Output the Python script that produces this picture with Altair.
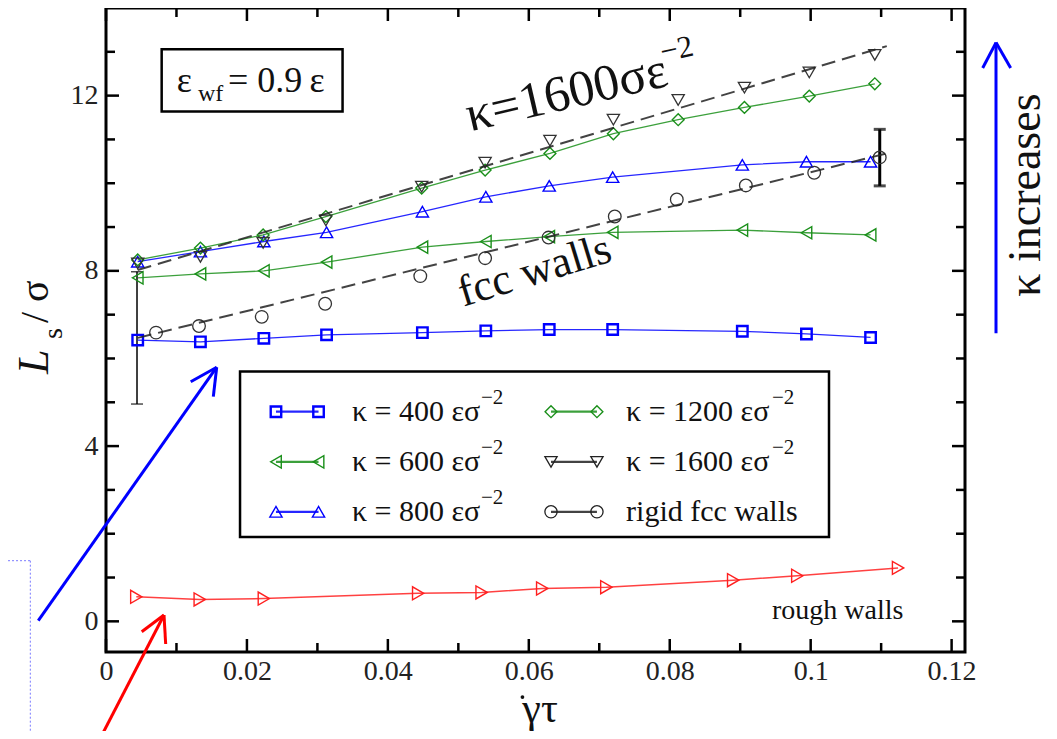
import altair as alt
import pandas as pd

# ---------------- data ----------------
X_A = [0.0045, 0.0134, 0.0224, 0.0313, 0.0449, 0.0539, 0.0629, 0.0719, 0.0903, 0.0994, 0.1085]
K400 = [6.42, 6.38, 6.46, 6.54, 6.59, 6.63, 6.66, 6.66, 6.62, 6.56, 6.48]
K600 = [7.84, 7.93, 8.00, 8.20, 8.54, 8.67, 8.78, 8.88, 8.93, 8.87, 8.82]
K800 = [8.21, 8.44, 8.67, 8.88, 9.35, 9.69, 9.94, 10.14, 10.42, 10.49, 10.49]

X_B = [0.0045, 0.0134, 0.0223, 0.0312, 0.0448, 0.0538, 0.0630, 0.0720, 0.0812, 0.0906, 0.0998, 0.1091]
K1200 = [8.25, 8.52, 8.82, 9.24, 9.89, 10.30, 10.68, 11.13, 11.45, 11.73, 11.99, 12.27]
K1600 = [8.17, 8.32, 8.64, 9.15, 9.92, 10.47, 10.97, 11.45, 11.90, 12.18, 12.53, 12.93]

X_FCC = [0.0071, 0.0132, 0.0221, 0.0311, 0.0446, 0.0538, 0.0628, 0.0722, 0.0810, 0.0908, 0.1005, 0.1098]
FCC = [6.59, 6.74, 6.95, 7.25, 7.88, 8.29, 8.76, 9.24, 9.63, 9.95, 10.24, 10.59]

X_ROUGH = [0.0043, 0.0133, 0.0224, 0.0443, 0.0533, 0.0619, 0.0710, 0.0890, 0.0981, 0.1124]
ROUGH = [0.56, 0.50, 0.52, 0.64, 0.66, 0.75, 0.78, 0.94, 1.04, 1.22]

FIT_X = [0.0045, 0.1108]
FIT_1600 = [8.02, 13.13]
FIT_FCC = [6.47, 10.68]

ERR_X = [0.0044, 0.1098]
ERR_LO = [4.96, 9.94]
ERR_HI = [7.98, 11.23]

X_TICK_LABELS = [0, 0.02, 0.04, 0.06, 0.08, 0.1, 0.12]
X_MINOR = [0.01, 0.03, 0.05, 0.07, 0.09, 0.11]
Y_TICK_LABELS = [0, 4, 8, 12]
Y_MINOR = [1, 2, 3, 5, 6, 7, 9, 10, 11, 13]

LEGEND_TEXT = ["κ = 400 εσ", "κ = 600 εσ", "κ = 800 εσ",
               "κ = 1200 εσ", "κ = 1600 εσ", "rigid fcc walls"]

# ---------------- styling / layout ----------------
W, H = 859, 644
FONT = "Liberation Serif, Times New Roman, Times, serif"
BLUE, GREEN, BLACK, RED = "#0000ff", "#1a8f1a", "#222222", "#ff2020"

XS = alt.Scale(domain=[0, 0.1219], nice=False, zero=False)
YS = alt.Scale(domain=[-0.7, 14], nice=False, zero=False)
XAX = alt.Axis(values=X_TICK_LABELS, format="~g", ticks=False, tickSize=0, domain=False,
               grid=False, labelFont=FONT, labelFontSize=28, labelColor="#222",
               labelPadding=5, labelFlush=False, title=None)
YAX = alt.Axis(values=Y_TICK_LABELS, format="d", ticks=False, tickSize=0, domain=False,
               grid=False, labelFont=FONT, labelFontSize=28, labelColor="#222",
               labelPadding=8, title=None)


def X(f="x"):
    return alt.X(f, type="quantitative", scale=XS, axis=XAX)


def Y(f="y"):
    return alt.Y(f, type="quantitative", scale=YS, axis=YAX)


def series(xs, ys, color, shape, size, sw, line=True, dash=None, lw=1.3):
    df = pd.DataFrame({"x": xs, "y": ys})
    out = []
    if line:
        kw = dict(color=color, strokeWidth=lw, opacity=0.85)
        if dash:
            kw["strokeDash"] = dash
        out.append(alt.Chart(df).mark_line(**kw).encode(x=X(), y=Y()))
    if shape:
        out.append(alt.Chart(df).mark_point(shape=shape, size=size, filled=False,
                                            color=color, strokeWidth=sw, opacity=1)
                   .encode(x=X(), y=Y()))
    return out


layers = []


def xticks(vals, length):
    d = pd.DataFrame({"x": vals})
    return [
        alt.Chart(d).mark_rule(color="black", strokeWidth=2.5).encode(
            x=X(), y=alt.value(H), y2=alt.value(H - length)),
        alt.Chart(d).mark_rule(color="black", strokeWidth=2.5).encode(
            x=X(), y=alt.value(0), y2=alt.value(length)),
    ]


def yticks(vals, length):
    d = pd.DataFrame({"y": vals})
    return [
        alt.Chart(d).mark_rule(color="black", strokeWidth=2.5).encode(
            y=Y(), x=alt.value(0), x2=alt.value(length)),
        alt.Chart(d).mark_rule(color="black", strokeWidth=2.5).encode(
            y=Y(), x=alt.value(W), x2=alt.value(W - length)),
    ]


layers += xticks(X_TICK_LABELS, 13) + xticks(X_MINOR, 9)
layers += yticks(Y_TICK_LABELS, 13) + yticks(Y_MINOR, 9)

# error bars
err = pd.DataFrame({"x": ERR_X, "lo": ERR_LO, "hi": ERR_HI})
e1, e2 = err.iloc[[0]], err.iloc[[1]]
for d, w in ((e1, 1.5), (e2, 3.0)):
    layers.append(alt.Chart(d).mark_rule(color="black", strokeWidth=w).encode(
        x=X(), y=Y("lo"), y2="hi"))
    layers.append(alt.Chart(d).mark_tick(color="black", orient="horizontal", size=12,
                                         thickness=w).encode(x=X(), y=Y("lo")))
    layers.append(alt.Chart(d).mark_tick(color="black", orient="horizontal", size=12,
                                         thickness=w).encode(x=X(), y=Y("hi")))

# data series
layers += series(X_A, K400, BLUE, "square", 110, 2.4)
layers += series(X_A, K600, GREEN, "triangle-left", 150, 1.4)
layers += series(X_A, K800, BLUE, "triangle-up", 150, 1.4)
layers += series(X_B, K1200, GREEN, "diamond", 140, 1.4)
layers += series(X_B, K1600, "#333333", "triangle-down", 150, 1.3, line=False)
layers += series(X_FCC, FCC, "#333333", "circle", 160, 1.3, line=False)
layers += series(X_ROUGH, ROUGH, RED, "triangle-right", 170, 1.4, lw=1.5)
layers += series(FIT_X, FIT_1600, BLACK, None, 0, 0, dash=[14, 7], lw=2)
layers += series(FIT_X, FIT_FCC, BLACK, None, 0, 0, dash=[14, 7], lw=2)

# ---------------- annotations (positions in data units) ----------------
box = pd.DataFrame({"x": [0.01902], "x2": [0.1026], "y": [1.925], "y2": [5.70]})
layers.append(alt.Chart(box).mark_rect(fill="white", stroke="black", strokeWidth=2.5)
              .encode(x=X(), x2="x2", y=Y(), y2="y2"))

LEG_ROW_Y = [4.785, 3.64, 2.50]
LEG_SYM_X = [(0.02412, 0.03016), (0.06315, 0.06967)]
LEG_TEXT_X = [0.0349, 0.0738]
LEG_SUP_X = [0.0532, 0.0945]
leg_styles = [
    (BLUE, "square", 110, 2.4), (GREEN, "triangle-left", 150, 1.4), (BLUE, "triangle-up", 150, 1.4),
    (GREEN, "diamond", 140, 1.4), (BLACK, "triangle-down", 150, 1.3), (BLACK, "circle", 150, 1.3),
]
leg_rows = []
sup_rows = []
for i, (col, shp, sz, sw) in enumerate(leg_styles):
    c, r = divmod(i, 3)
    xa, xb = LEG_SYM_X[c]
    yy = LEG_ROW_Y[r]
    layers += series([xa, xb], [yy, yy], col, shp, sz, sw, lw=2.2)
    leg_rows.append({"x": LEG_TEXT_X[c], "y": yy, "t": LEGEND_TEXT[i]})
    if i != 5:
        sup_rows.append({"x": LEG_SUP_X[c], "y": yy + 0.31, "t": "−2"})

layers.append(alt.Chart(pd.DataFrame(leg_rows)).mark_text(
    font=FONT, fontSize=30, align="left", baseline="middle", color="#111")
    .encode(x=X(), y=Y(), text="t:N"))
layers.append(alt.Chart(pd.DataFrame(sup_rows)).mark_text(
    font=FONT, fontSize=21, align="left", baseline="middle", color="#111")
    .encode(x=X(), y=Y(), text="t:N"))

# epsilon box
ebox = pd.DataFrame({"x": [0.0079], "x2": [0.03357], "y": [11.635], "y2": [13.06]})
layers.append(alt.Chart(ebox).mark_rect(fill="white", stroke="black", strokeWidth=2.5)
              .encode(x=X(), x2="x2", y=Y(), y2="y2"))


def label(x, y, t, size, angle=0, align="left", baseline="alphabetic", style="normal",
          color="#111"):
    d = pd.DataFrame({"x": [x], "y": [y], "t": [t]})
    kw = dict(font=FONT, fontSize=size, align=align, baseline=baseline, color=color,
              fontStyle=style)
    if angle:
        kw["angle"] = angle
    return alt.Chart(d).mark_text(**kw).encode(x=X(), y=Y(), text="t:N")


layers.append(label(0.01003, 12.08, "ε", 36))
layers.append(label(0.01306, 11.87, "wf", 24))
layers.append(label(0.01731, 12.08, "= 0.9\u2009ε", 36))

layers.append(label(0.05165, 11.18, "κ=1600σε", 51, angle=347))
layers.append(label(0.0790, 12.76, "−2", 31, angle=347))
layers.append(label(0.0507, 7.18, "fcc walls", 44, angle=343))
layers.append(label(0.0945, 0.05, "rough walls", 28))
layers.append(label(0.1325, 7.41, "κ increases", 46, angle=270))

# axis titles
layers.append(label(-0.00823, 5.646, "L", 44, angle=270, style="italic"))
layers.append(label(-0.00624, 6.445, "s", 28, angle=270))
layers.append(label(-0.00823, 6.81, "/ σ", 40, angle=270))
layers.append(label(0.0616, -2.30, "γτ", 42, align="center"))
dot = pd.DataFrame({"x": [0.0591], "y": [-1.728]})
layers.append(alt.Chart(dot).mark_point(filled=True, size=14, color="#111", shape="circle",
                                        opacity=1).encode(x=X(), y=Y()))

# arrows / strokes outside the axes
SEG_BLUE = pd.DataFrame({
    "x": [-0.00961, 0.01571, 0.01571, 0.1263, 0.1263, 0.1263],
    "y": [0.0137, 5.80, 5.80, 6.575, 13.21, 13.21],
    "x2": [0.01571, 0.01202, 0.01523, 0.1263, 0.12441, 0.12838],
    "y2": [5.80, 5.47, 5.128, 13.21, 12.63, 12.63],
})
SEG_RED = pd.DataFrame({
    "x": [-0.00085, 0.00823, 0.00823],
    "y": [-2.68, 0.144, 0.144],
    "x2": [0.00823, 0.00507, 0.00847],
    "y2": [0.144, -0.237, -0.518],
})
SEG_DOT = pd.DataFrame({
    "x": [-0.01504, -0.01074],
    "y": [1.384, 1.384],
    "x2": [-0.01074, -0.01074],
    "y2": [1.384, -2.69],
})
layers.append(alt.Chart(SEG_BLUE).mark_rule(color=BLUE, strokeWidth=3)
              .encode(x=X(), y=Y(), x2="x2", y2="y2"))
layers.append(alt.Chart(SEG_RED).mark_rule(color="#ff0000", strokeWidth=3)
              .encode(x=X(), y=Y(), x2="x2", y2="y2"))
layers.append(alt.Chart(SEG_DOT).mark_rule(color="#7a7aff", strokeWidth=1, strokeDash=[2, 2])
              .encode(x=X(), y=Y(), x2="x2", y2="y2"))

chart = alt.layer(*layers).properties(
    width=W, height=H,
    autosize=alt.AutoSizeParams(type="none"),
    padding={"left": 98, "top": 0, "right": 84, "bottom": 79},
    background="white",
).configure_view(stroke="black", strokeWidth=3)

chart.save("out.html", embed_options={"renderer": "svg", "actions": False})
